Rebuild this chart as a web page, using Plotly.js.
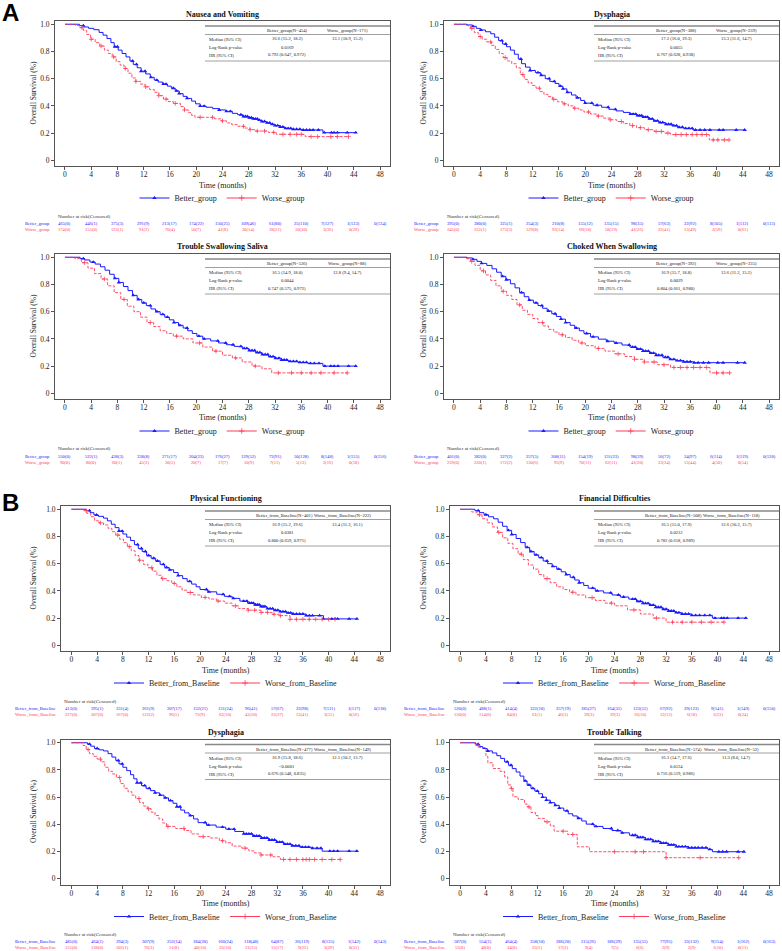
<!DOCTYPE html>
<html><head><meta charset="utf-8">
<script src="https://cdn.plot.ly/plotly-3.0.1.min.js"></script>
<style>body{margin:0;background:#fff}#chart{width:782px;height:951px}</style>
</head><body><div id="chart"></div>
<script>
// ---------------- shared ticks ----------------
const monthTicks = [0,4,8,12,16,20,24,28,32,36,40,44,48];
const survTickVals = [0,0.2,0.4,0.6,0.8,1.0];
const survTickText = ['0','0.2','0.4','0.6','0.8','1.0'];

// ---------------- A1 Nausea and Vomiting ----------------
const nvTitle = 'Nausea and Vomiting';
const nvGroups = ['Better_group','Worse_group'];
const nvHeader = ['Better_group(N=454)','Worse_group(N=171)'];
const nvMedian = ['16.6 (15.2, 18.2)','13.1 (10.9, 15.2)'];
const nvP = '0.0169';
const nvHR = '0.793 (0.647, 0.972)';
const nvBetterT = [0,2.2,2.9,3.6,4.4,5.2,5.8,6.4,7.0,7.5,8.1,8.7,9.3,9.9,10.4,11.0,11.6,12.3,13.0,13.6,14.2,14.9,15.6,16.2,16.8,17.4,18.0,18.6,19.3,19.9,20.6,21.5,22.5,23.5,24.5,25.5,26.3,27.1,27.9,28.7,29.4,30.0,30.7,31.3,32.0,32.8,33.5,34.5,36.0,39.3,44.3];
const nvBetterS = [1,0.99,0.98,0.97,0.96,0.94,0.92,0.895,0.865,0.835,0.81,0.785,0.76,0.73,0.705,0.68,0.655,0.635,0.61,0.59,0.575,0.56,0.545,0.53,0.51,0.49,0.47,0.455,0.435,0.415,0.398,0.39,0.38,0.37,0.36,0.345,0.335,0.322,0.313,0.305,0.295,0.285,0.275,0.265,0.255,0.245,0.235,0.228,0.223,0.203,0.203];
const nvBetterC = [2.8,7.6,8.0,10.3,10.9,11.6,12.2,13.1,14.0,15.0,15.4,16.5,17.0,17.4,18.6,20.6,21.2,23.5,24.6,25.2,26.8,27.2,27.5,27.8,28.1,28.4,28.7,29.0,29.3,29.6,30.0,30.4,30.8,31.2,31.6,32.0,32.4,32.8,33.2,33.6,34.0,34.4,34.8,35.3,35.8,36.3,36.8,37.3,37.8,38.6,39.5,40.6,41.0,41.5,43.0,44.3];
const nvWorseT = [0,1.6,2.2,2.8,3.3,3.9,4.6,5.3,6.0,6.6,7.2,7.8,8.4,9.0,9.6,10.2,10.8,11.5,12.2,12.9,13.6,14.3,15.0,15.7,16.5,17.6,18.2,18.8,19.3,19.8,22.8,23.8,24.6,25.4,26.3,27.3,28.2,29.0,31.0,32.2,36.6,43.2];
const nvWorseS = [1,0.99,0.975,0.955,0.925,0.89,0.865,0.84,0.81,0.785,0.76,0.725,0.70,0.675,0.64,0.605,0.58,0.56,0.54,0.52,0.50,0.475,0.45,0.432,0.418,0.395,0.37,0.35,0.33,0.316,0.305,0.29,0.275,0.262,0.25,0.237,0.225,0.215,0.205,0.191,0.174,0.174];
const nvWorseC = [2.6,4.0,5.5,7.4,9.2,10.8,12.3,14.3,15.4,16.8,18.2,20.6,22.5,24.0,27.2,28.2,29.3,30.4,31.8,33.2,34.3,35.3,36.0,37.5,38.5,40.5,41.5,43.2];
const nvRiskBetter = ['465(0)','446(1)','375(3)','291(9)','213(17)','174(22)','150(25)','109(46)','61(80)','25(110)','7(127)','1(133)','0(134)'];
const nvRiskWorse = ['174(0)','155(0)','122(1)','91(2)','70(4)','50(7)','41(8)','30(14)','18(21)','10(30)','3(36)','0(39)'];

// ---------------- A2 Dysphagia ----------------
const dyTitle = 'Dysphagia';
const dyGroups = ['Better_group','Worse_group'];
const dyHeader = ['Better_group(N=388)','Worse_group(N=239)'];
const dyMedian = ['17.2 (16.0, 19.3)','13.3 (11.6, 14.7)'];
const dyP = '0.0055';
const dyHR = '0.767 (0.628, 0.938)';
const dyBetterT = [0,2.0,2.8,3.4,4.0,4.8,5.6,6.2,6.8,7.4,8.0,8.6,9.2,9.8,10.3,10.9,11.6,12.4,13.2,13.9,14.6,15.4,16.0,16.6,17.2,17.9,18.6,19.3,19.9,21.2,22.5,23.6,24.7,25.8,26.8,27.8,28.7,29.6,30.4,31.2,32.2,33.2,34.0,35.0,36.4,44.3];
const dyBetterS = [1,0.995,0.985,0.97,0.958,0.945,0.93,0.905,0.88,0.855,0.835,0.81,0.78,0.745,0.71,0.685,0.66,0.645,0.625,0.60,0.58,0.565,0.545,0.525,0.50,0.48,0.46,0.44,0.42,0.405,0.39,0.375,0.363,0.352,0.34,0.328,0.317,0.305,0.29,0.278,0.265,0.255,0.243,0.235,0.223,0.223];
const dyBetterC = [2.9,4.1,7.3,7.9,10.2,11.6,12.8,13.3,14.5,15.3,16.2,16.6,17.3,18.8,20.0,21.0,21.8,23.5,24.6,26.9,27.3,27.7,28.0,28.3,28.6,28.9,29.2,29.5,29.8,30.2,30.6,31.0,31.4,31.8,32.3,32.7,33.1,33.5,33.9,34.3,34.8,35.3,35.8,36.3,36.8,37.5,38.2,39.0,40.4,41.0,43.0,44.3];
const dyWorseT = [0,1.9,2.5,3.1,3.7,4.3,5.0,5.7,6.3,6.9,7.5,8.1,8.8,9.5,10.1,10.7,11.3,11.9,12.5,13.1,13.7,14.3,15.0,15.8,16.6,17.4,18.2,19.0,19.8,20.8,21.8,22.8,23.8,24.8,25.8,26.8,27.8,29.0,30.5,32.0,33.0,38.9,41.9];
const dyWorseS = [1,0.99,0.97,0.94,0.91,0.89,0.87,0.845,0.815,0.785,0.755,0.73,0.71,0.68,0.63,0.595,0.57,0.55,0.53,0.505,0.485,0.468,0.448,0.43,0.415,0.40,0.383,0.37,0.355,0.34,0.325,0.31,0.298,0.285,0.27,0.255,0.24,0.225,0.212,0.2,0.189,0.15,0.15];
const dyWorseC = [2.7,4.0,5.6,7.8,10.5,13.0,15.2,16.8,18.4,20.5,22.0,23.8,25.5,27.2,28.4,29.6,30.8,31.6,32.6,33.8,34.6,35.4,36.3,37.0,37.8,38.5,39.5,40.2,41.2,41.9];
const dyRiskBetter = ['395(0)','380(0)','325(1)','254(3)','210(8)','155(12)','135(15)','98(35)','57(63)','22(92)','8(105)','1(112)','0(113)'];
const dyRiskWorse = ['245(0)','222(1)','173(3)','129(8)','93(14)','69(18)','58(19)','41(26)','22(41)','13(49)','2(59)','0(61)'];

// ---------------- A3 Trouble Swallowing Saliva ----------------
const saTitle = 'Trouble Swallowing Saliva';
const saGroups = ['Better_group','Worse_group'];
const saHeader = ['Better_group(N=536)','Worse_group(N=88)'];
const saMedian = ['16.5 (14.9, 18.0)','12.8 (9.4, 14.7)'];
const saP = '0.0044';
const saHR = '0.747 (0.575, 0.972)';
const saBetterT = [0,2.3,3.0,3.8,4.6,5.4,6.1,6.8,7.5,8.2,8.9,9.6,10.3,11.0,11.7,12.4,13.1,13.8,14.5,15.2,15.9,16.6,17.3,18.0,18.7,19.4,20.1,21.0,22.2,23.4,24.6,25.8,27.0,28.0,29.0,30.0,31.0,32.0,33.0,34.0,35.5,37.0,39.3,44.3];
const saBetterS = [1,0.99,0.98,0.965,0.95,0.93,0.905,0.875,0.845,0.815,0.785,0.755,0.72,0.69,0.665,0.645,0.62,0.6,0.58,0.56,0.54,0.52,0.5,0.48,0.46,0.44,0.42,0.4,0.385,0.37,0.357,0.345,0.33,0.315,0.3,0.285,0.27,0.258,0.245,0.235,0.227,0.22,0.2,0.2];
const saBetterC = [2.8,4.3,7.6,8.2,10.4,11.2,12.0,13.0,14.0,14.9,15.6,16.6,17.5,18.6,20.4,21.2,23.3,24.5,25.6,26.8,27.3,27.7,28.1,28.5,28.9,29.3,29.7,30.1,30.5,30.9,31.3,31.7,32.1,32.6,33.0,33.4,33.8,34.3,34.8,35.3,35.8,36.3,36.8,37.4,38.0,38.7,39.6,40.5,41.0,41.6,43.2,44.3];
const saWorseT = [0,1.5,2.5,3.5,4.5,5.5,6.5,7.5,8.5,9.5,10.5,11.5,12.5,13.5,14.5,15.5,16.5,18.0,19.5,21.0,22.5,24.0,25.5,27.0,28.5,30.0,31.5,43.0];
const saWorseS = [1,0.99,0.96,0.92,0.88,0.84,0.79,0.74,0.69,0.64,0.6,0.56,0.52,0.49,0.46,0.44,0.42,0.4,0.37,0.34,0.31,0.28,0.26,0.23,0.2,0.18,0.15,0.15];
const saWorseC = [3.0,6.0,9.0,13.0,17.0,20.5,23.0,26.0,29.0,32.5,34.5,36.0,37.5,39.0,41.0,43.0];
const saRiskBetter = ['550(0)','522(1)','438(3)','338(8)','271(17)','204(23)','176(27)','129(52)','72(91)','50(128)','8(148)','1(155)','0(156)'];
const saRiskWorse = ['90(0)','80(0)','60(1)','45(3)','30(5)','20(7)','17(7)','10(9)','7(11)','5(13)','2(16)','0(18)'];

// ---------------- A4 Choked When Swallowing ----------------
const chTitle = 'Choked When Swallowing';
const chGroups = ['Better_group','Worse_group'];
const chHeader = ['Better_group(N=392)','Worse_group(N=235)'];
const chMedian = ['16.9 (15.7, 18.8)','13.6 (11.2, 15.2)'];
const chP = '0.0029';
const chHR = '0.804 (0.661, 0.980)';
const chBetterT = [0,2.0,2.8,3.5,4.2,5.0,5.8,6.5,7.2,7.9,8.6,9.3,10.0,10.7,11.4,12.1,12.8,13.5,14.2,14.9,15.6,16.3,17.0,17.7,18.4,19.1,19.8,20.8,22.0,23.2,24.4,25.6,26.8,27.8,28.8,29.8,30.8,31.8,32.8,33.8,35.0,36.5,44.3];
const chBetterS = [1,0.995,0.985,0.97,0.955,0.94,0.915,0.89,0.86,0.835,0.805,0.775,0.74,0.71,0.685,0.665,0.645,0.625,0.605,0.585,0.565,0.545,0.52,0.5,0.48,0.46,0.44,0.415,0.398,0.383,0.37,0.355,0.34,0.325,0.31,0.295,0.28,0.265,0.25,0.24,0.232,0.225,0.225];
const chBetterC = [2.9,4.2,7.4,8.0,10.3,11.5,12.5,13.4,14.4,15.4,16.3,17.0,18.6,20.2,21.2,23.4,24.7,26.7,27.2,27.6,28.0,28.4,28.8,29.2,29.6,30.0,30.4,30.8,31.2,31.7,32.2,32.6,33.0,33.5,34.0,34.5,35.0,35.5,36.0,36.6,37.2,38.0,38.8,40.2,41.0,43.2,44.3];
const chWorseT = [0,1.8,2.5,3.2,4.0,4.8,5.6,6.4,7.2,8.0,8.8,9.6,10.4,11.2,12.0,12.8,13.6,14.4,15.2,16.0,17.0,18.0,19.0,20.0,21.5,23.0,24.5,26.0,27.5,29.0,31.0,33.0,39.0,42.0];
const chWorseS = [1,0.99,0.97,0.94,0.9,0.87,0.83,0.79,0.75,0.72,0.69,0.65,0.61,0.58,0.55,0.52,0.495,0.47,0.45,0.43,0.41,0.39,0.37,0.35,0.33,0.31,0.29,0.27,0.25,0.23,0.21,0.19,0.15,0.15];
const chWorseC = [2.7,4.5,7.5,10.0,13.5,16.5,19.5,22.0,25.0,27.5,29.0,30.5,32.0,33.5,34.5,35.5,36.5,37.5,38.5,40.0,41.0,42.0];
const chRiskBetter = ['401(0)','382(0)','327(2)','257(5)','208(11)','154(19)','131(23)','98(39)','56(72)','24(97)','6(114)','1(119)','0(120)'];
const chRiskWorse = ['239(0)','220(1)','172(2)','130(6)','95(9)','70(11)','62(11)','41(20)','23(34)','13(44)','4(50)','0(54)'];

// ---------------- B1 Physical Functioning ----------------
const pfTitle = 'Physical Functioning';
const pfGroups = ['Better_from_Baseline','Worse_from_Baseline'];
const pfHeader = ['Better_from_Baseline(N=401)','Worse_from_Baseline(N=222)'];
const pfMedian = ['16.9 (15.2, 19.6)','13.4 (11.3, 16.1)'];
const pfP = '0.0381';
const pfHR = '0.800 (0.659, 0.971)';
const pfBetterT = [0,2.3,2.9,3.5,4.2,5.0,5.6,6.2,6.8,7.4,8.0,8.6,9.2,9.8,10.4,11.0,11.7,12.4,13.1,13.8,14.5,15.2,15.9,16.6,17.3,18.0,18.7,19.4,20.0,21.2,22.6,23.8,25.0,26.2,27.4,28.4,29.4,30.4,31.4,32.4,33.4,34.4,36.5,39.2,44.4];
const pfBetterS = [1,0.99,0.975,0.958,0.948,0.935,0.915,0.89,0.865,0.84,0.818,0.795,0.77,0.74,0.712,0.69,0.66,0.64,0.62,0.595,0.572,0.555,0.535,0.512,0.49,0.47,0.45,0.43,0.41,0.393,0.375,0.36,0.345,0.325,0.31,0.298,0.285,0.27,0.258,0.248,0.238,0.23,0.218,0.194,0.194];
const pfBetterC = [2.8,3.9,7.4,7.9,10.3,10.9,11.5,12.0,12.8,13.4,14.3,14.8,15.3,16.6,18.4,21.0,21.4,23.6,24.6,25.2,26.8,27.3,27.7,28.0,28.3,28.6,28.9,29.2,29.5,29.8,30.1,30.5,30.9,31.3,31.7,32.1,32.5,32.9,33.3,33.7,34.1,34.5,35.0,35.5,36.0,36.5,37.0,37.5,38.6,39.2,40.5,41.0,41.4,43.2,44.4];
const pfWorseT = [0,1.9,2.4,3.0,3.6,4.3,5.0,5.7,6.3,6.9,7.5,8.1,8.7,9.3,9.9,10.5,11.2,11.9,12.6,13.3,14.0,14.8,15.6,16.4,17.2,18.0,19.0,20.2,21.4,22.6,23.8,25.0,26.0,27.5,29.5,31.2,32.4,34.0,41.3];
const pfWorseS = [1,0.99,0.97,0.945,0.915,0.9,0.885,0.86,0.835,0.81,0.78,0.755,0.725,0.695,0.66,0.625,0.595,0.57,0.545,0.515,0.49,0.475,0.455,0.43,0.405,0.388,0.37,0.352,0.34,0.325,0.31,0.29,0.27,0.258,0.242,0.228,0.218,0.191,0.191];
const pfWorseC = [2.3,4.5,7.2,9.0,10.6,12.5,14.2,16.0,18.5,20.8,22.8,25.5,27.5,28.5,29.5,30.5,31.5,32.5,34.0,35.0,36.0,37.0,38.0,39.0,40.0,41.0];
const pfRiskBetter = ['413(0)','395(1)','331(4)','261(9)','207(17)','152(21)','131(24)','96(41)','57(67)','22(98)','7(111)','1(117)','0(118)'];
const pfRiskWorse = ['227(0)','207(0)','167(0)','122(2)','96(5)','72(9)','62(10)','43(20)','22(37)','13(41)','3(51)','0(56)'];

// ---------------- B2 Financial Difficulties ----------------
const fdTitle = 'Financial Difficulties';
const fdGroups = ['Better_from_Baseline','Worse_from_Baseline'];
const fdHeader = ['Better_from_Baseline(N=508)','Worse_from_Baseline(N=118)'];
const fdMedian = ['16.5 (15.0, 17.9)','12.6 (10.2, 15.7)'];
const fdP = '0.0212';
const fdHR = '0.782 (0.618, 0.989)';
const fdBetterT = [0,2.3,3.0,3.7,4.4,5.2,5.9,6.6,7.3,8.0,8.7,9.4,10.1,10.8,11.5,12.2,12.9,13.6,14.3,15.0,15.7,16.4,17.1,17.8,18.5,19.2,19.9,21.0,22.3,23.6,24.9,26.2,27.4,28.4,29.4,30.4,31.4,32.4,33.4,34.4,36.0,39.2,44.4];
const fdBetterS = [1,0.99,0.975,0.96,0.945,0.93,0.905,0.875,0.845,0.815,0.785,0.755,0.72,0.69,0.665,0.645,0.62,0.6,0.58,0.56,0.54,0.52,0.5,0.48,0.46,0.44,0.42,0.4,0.385,0.37,0.355,0.34,0.323,0.308,0.295,0.28,0.265,0.252,0.24,0.23,0.22,0.2,0.2];
const fdBetterC = [2.8,4.0,7.5,8.0,10.4,11.0,11.8,12.6,13.5,14.4,15.3,16.5,17.6,18.5,20.6,21.3,23.4,24.6,25.4,26.8,27.2,27.6,28.0,28.4,28.8,29.2,29.6,30.0,30.4,30.8,31.2,31.6,32.0,32.4,32.8,33.2,33.6,34.0,34.5,35.0,35.5,36.0,36.6,37.2,38.0,38.8,39.6,40.6,41.0,41.5,43.2,44.4];
const fdWorseT = [0,1.8,2.6,3.4,4.2,5.0,5.8,6.6,7.4,8.2,9.0,9.8,10.6,11.4,12.2,13.0,14.0,15.0,16.0,17.0,18.0,19.5,21.0,22.5,24.0,26.0,28.0,30.0,32.0,41.0];
const fdWorseS = [1,0.98,0.96,0.93,0.9,0.87,0.83,0.79,0.75,0.71,0.67,0.63,0.59,0.56,0.52,0.49,0.46,0.43,0.41,0.39,0.37,0.35,0.33,0.31,0.29,0.26,0.23,0.2,0.17,0.17];
const fdWorseC = [3.0,6.0,9.5,13.5,17.5,20.5,23.5,27.0,30.5,33.0,34.5,36.0,37.5,39.0,41.0];
const fdRiskBetter = ['520(0)','488(1)','414(4)','322(10)','257(19)','185(27)','164(31)','123(51)','67(92)','29(123)','9(141)','1(149)','0(150)'];
const fdRiskWorse = ['120(0)','114(0)','84(0)','61(1)','46(3)','39(3)','29(3)','16(10)','12(12)','6(18)','1(23)','0(24)'];

// ---------------- B3 Dysphagia ----------------
const bdTitle = 'Dysphagia';
const bdGroups = ['Better_from_Baseline','Worse_from_Baseline'];
const bdHeader = ['Better_from_Baseline(N=477)','Worse_from_Baseline(N=149)'];
const bdMedian = ['16.9 (15.8, 18.6)','12.1 (10.2, 13.7)'];
const bdP = '<0.0001';
const bdHR = '0.676 (0.548, 0.835)';
const bdBetterT = [0,2.5,3.0,3.6,4.3,5.0,5.7,6.3,6.9,7.4,8.0,8.6,9.2,9.7,10.2,10.9,11.6,12.3,13.0,13.7,14.4,15.1,15.8,16.4,17.0,17.6,18.3,19.0,19.7,21.0,22.5,24.0,25.4,26.8,28.2,29.5,30.7,31.9,33.0,34.2,35.5,37.3,39.0,44.4];
const bdBetterS = [1,0.99,0.975,0.958,0.948,0.94,0.92,0.895,0.87,0.845,0.82,0.795,0.765,0.735,0.705,0.685,0.665,0.648,0.632,0.615,0.595,0.575,0.555,0.53,0.505,0.485,0.465,0.44,0.413,0.395,0.38,0.365,0.348,0.33,0.315,0.3,0.285,0.27,0.255,0.243,0.233,0.225,0.203,0.203];
const bdBetterC = [2.8,4.0,7.3,7.9,10.2,10.8,11.4,12.1,13.0,13.8,14.6,15.4,16.4,16.9,18.5,20.8,21.3,23.5,24.5,25.3,26.8,27.2,27.6,28.0,28.4,28.8,29.2,29.6,30.0,30.4,30.8,31.2,31.6,32.0,32.4,32.8,33.2,33.6,34.0,34.4,34.9,35.4,35.9,36.4,36.9,37.5,38.2,38.8,40.2,40.8,41.4,43.2,44.4];
const bdWorseT = [0,1.8,2.3,2.8,3.4,4.0,4.6,5.2,5.8,6.4,7.0,7.6,8.2,8.8,9.4,10.0,10.6,11.2,11.8,12.4,13.0,13.6,14.2,14.8,16.2,17.6,18.6,19.8,21.5,23.0,24.0,25.0,26.5,27.6,28.5,29.5,31.3,32.5,41.8];
const bdWorseS = [1,0.98,0.95,0.92,0.9,0.88,0.86,0.82,0.79,0.77,0.745,0.7,0.665,0.64,0.615,0.59,0.56,0.535,0.515,0.49,0.465,0.44,0.41,0.385,0.37,0.355,0.33,0.31,0.3,0.28,0.265,0.24,0.225,0.205,0.19,0.175,0.162,0.142,0.142];
const bdWorseC = [2.6,4.5,7.5,10.5,12.0,15.0,17.5,20.5,23.5,27.0,29.5,31.0,33.0,34.0,35.0,36.0,36.5,37.0,37.8,39.0,40.5,41.8];
const bdRiskBetter = ['485(0)','464(1)','394(3)','307(9)','252(14)','184(20)','160(24)','118(48)','64(87)','26(119)','8(135)','1(142)','0(143)'];
const bdRiskWorse = ['155(0)','138(0)','102(1)','76(3)','51(8)','40(10)','33(10)','21(15)','15(17)','9(22)','3(29)','0(31)'];

// ---------------- B4 Trouble Talking ----------------
const ttTitle = 'Trouble Talking';
const ttGroups = ['Better_from_Baseline','Worse_from_Baseline'];
const ttHeader = ['Better_from_Baseline(N=574)','Worse_from_Baseline(N=52)'];
const ttMedian = ['16.3 (14.7, 17.6)','11.3 (8.0, 14.7)'];
const ttP = '0.0124';
const ttHR = '0.716 (0.519, 0.986)';
const ttBetterT = [0,2.4,2.9,3.5,4.2,5.0,5.7,6.3,6.9,7.5,8.1,8.7,9.3,9.9,10.4,11.0,11.6,12.2,12.8,13.4,14.0,14.7,15.4,16.1,16.8,17.5,18.2,18.9,19.6,20.8,22.2,23.6,25.0,26.3,27.6,28.8,30.0,31.2,32.4,33.6,35.5,38.5,39.2,44.1];
const ttBetterS = [1,0.99,0.972,0.958,0.94,0.925,0.905,0.885,0.86,0.835,0.81,0.785,0.755,0.72,0.69,0.665,0.645,0.625,0.6,0.578,0.56,0.54,0.52,0.5,0.478,0.462,0.445,0.425,0.402,0.385,0.37,0.355,0.338,0.32,0.305,0.29,0.275,0.262,0.25,0.237,0.228,0.216,0.199,0.199];
const ttBetterC = [2.8,4.3,7.3,7.9,10.1,10.7,11.3,12.0,12.8,13.4,14.0,14.8,15.4,16.6,18.4,20.6,21.1,23.5,24.5,25.2,26.8,27.2,27.6,28.0,28.4,28.8,29.2,29.6,30.0,30.4,30.8,31.2,31.6,32.0,32.4,32.8,33.2,33.6,34.0,34.5,35.0,35.5,36.0,36.5,37.0,37.6,38.2,38.8,40.2,40.8,41.4,43.2,44.1];
const ttWorseT = [0,2.3,3.0,4.0,4.3,5.1,6.2,6.9,7.4,7.9,8.2,9.0,10.0,10.4,11.0,11.7,12.1,13.1,14.0,14.6,16.7,18.2,20.1,32.0,43.3];
const ttWorseS = [1,0.98,0.965,0.9,0.853,0.811,0.79,0.75,0.69,0.664,0.603,0.583,0.55,0.529,0.488,0.465,0.444,0.419,0.39,0.35,0.326,0.235,0.199,0.155,0.155];
const ttWorseC = [2.8,8.0,10.7,13.5,16.0,17.5,24.0,27.2,28.5,32.0,37.3,43.3];
const ttRiskBetter = ['587(0)','554(1)','464(4)','358(10)','286(20)','215(26)','186(29)','135(55)','77(95)','33(132)','9(154)','1(162)','0(163)'];
const ttRiskWorse = ['53(0)','48(0)','34(0)','25(1)','17(2)','9(4)','7(5)','6(6)','2(9)','2(9)','1(10)','0(11)'];

// ---------------- figure assembly ----------------
const W = 782, H = 951;
const fx = p => p / W, fy = p => 1 - p / H;
const BLUE = '#1a1aff', RED = '#ff3d5a';
const SERIF = 'Liberation Serif, Times New Roman, serif';

const panels = [
  {title:nvTitle, g:nvGroups, hd:nvHeader, md:nvMedian, p:nvP, hr:nvHR, bT:nvBetterT, bS:nvBetterS, bC:nvBetterC, wT:nvWorseT, wS:nvWorseS, wC:nvWorseC, rb:nvRiskBetter, rw:nvRiskWorse, L:55, R:390, T:21, B:166, xr:[-1.52,49.52], yt:33, kind:'A'},
  {title:dyTitle, g:dyGroups, hd:dyHeader, md:dyMedian, p:dyP, hr:dyHR, bT:dyBetterT, bS:dyBetterS, bC:dyBetterC, wT:dyWorseT, wS:dyWorseS, wC:dyWorseC, rb:dyRiskBetter, rw:dyRiskWorse, L:444, R:779, T:21, B:166, xr:[-1.52,49.52], yt:423, kind:'A'},
  {title:saTitle, g:saGroups, hd:saHeader, md:saMedian, p:saP, hr:saHR, bT:saBetterT, bS:saBetterS, bC:saBetterC, wT:saWorseT, wS:saWorseS, wC:saWorseC, rb:saRiskBetter, rw:saRiskWorse, L:55, R:390, T:254, B:399, xr:[-1.52,49.52], yt:33, kind:'A'},
  {title:chTitle, g:chGroups, hd:chHeader, md:chMedian, p:chP, hr:chHR, bT:chBetterT, bS:chBetterS, bC:chBetterC, wT:chWorseT, wS:chWorseS, wC:chWorseC, rb:chRiskBetter, rw:chRiskWorse, L:444, R:779, T:254, B:399, xr:[-1.52,49.52], yt:423, kind:'A'},
  {title:pfTitle, g:pfGroups, hd:pfHeader, md:pfMedian, p:pfP, hr:pfHR, bT:pfBetterT, bS:pfBetterS, bC:pfBetterC, wT:pfWorseT, wS:pfWorseS, wC:pfWorseC, rb:pfRiskBetter, rw:pfRiskWorse, L:61, R:390, T:506, B:651, xr:[-1.62,49.55], yt:33, kind:'B'},
  {title:fdTitle, g:fdGroups, hd:fdHeader, md:fdMedian, p:fdP, hr:fdHR, bT:fdBetterT, bS:fdBetterS, bC:fdBetterC, wT:fdWorseT, wS:fdWorseS, wC:fdWorseC, rb:fdRiskBetter, rw:fdRiskWorse, L:450, R:779, T:506, B:651, xr:[-1.58,49.55], yt:423, kind:'B'},
  {title:bdTitle, g:bdGroups, hd:bdHeader, md:bdMedian, p:bdP, hr:bdHR, bT:bdBetterT, bS:bdBetterS, bC:bdBetterC, wT:bdWorseT, wS:bdWorseS, wC:bdWorseC, rb:bdRiskBetter, rw:bdRiskWorse, L:61, R:390, T:739.5, B:884.5, xr:[-1.62,49.55], yt:33, kind:'B'},
  {title:ttTitle, g:ttGroups, hd:ttHeader, md:ttMedian, p:ttP, hr:ttHR, bT:ttBetterT, bS:ttBetterS, bC:ttBetterC, wT:ttWorseT, wS:ttWorseS, wC:ttWorseC, rb:ttRiskBetter, rw:ttRiskWorse, L:450, R:779, T:739.5, B:884.5, xr:[-1.58,49.55], yt:423, kind:'B'}
];

function stepAt(T, S, t) {
  let v = S[0];
  for (let i = 0; i < T.length; i++) { if (T[i] <= t) v = S[i]; else break; }
  return v;
}

const traces = [];
const layout = {
  width: W, height: H, margin: {l:0, r:0, t:0, b:0},
  paper_bgcolor: '#fff', plot_bgcolor: '#fff',
  font: {family: SERIF, color: '#222'},
  annotations: [], shapes: []
};
const ann = layout.annotations, shp = layout.shapes;

panels.forEach((P, i) => {
  const k = i + 1;
  const xa = k === 1 ? 'x' : 'x' + k, ya = k === 1 ? 'y' : 'y' + k;
  const lg = k === 1 ? 'legend' : 'legend' + k;
  const axisCommon = {
    showline: true, mirror: true, linecolor: '#555', linewidth: 1,
    ticks: 'outside', ticklen: 3, tickcolor: '#555', tickwidth: 1,
    showgrid: false, zeroline: false, fixedrange: true,
    tickfont: {family: SERIF, size: 7.5, color: '#222'}
  };
  layout[k === 1 ? 'xaxis' : 'xaxis' + k] = Object.assign({}, axisCommon, {
    domain: [fx(P.L), fx(P.R)], range: P.xr, anchor: ya, ticklabelstandoff: -2,
    tickmode: 'array', tickvals: monthTicks, ticktext: monthTicks.map(String)
  });
  layout[k === 1 ? 'yaxis' : 'yaxis' + k] = Object.assign({}, axisCommon, {
    domain: [fy(P.B), fy(P.T)], range: [-0.042, 1.024], anchor: xa,
    tickmode: 'array', tickvals: survTickVals, ticktext: survTickText
  });

  // curves
  traces.push({x: P.bT, y: P.bS, xaxis: xa, yaxis: ya, mode: 'lines', line: {shape: 'hv', color: BLUE, width: 1}, showlegend: false, hoverinfo: 'skip'});
  traces.push({x: P.wT, y: P.wS, xaxis: xa, yaxis: ya, mode: 'lines', line: {shape: 'hv', color: RED, width: 0.9, dash: '3px,1.5px'}, showlegend: false, hoverinfo: 'skip'});
  traces.push({x: P.bC, y: P.bC.map(t => stepAt(P.bT, P.bS, t)), xaxis: xa, yaxis: ya, mode: 'markers',
    marker: {symbol: 'triangle-up', size: 3.8, color: BLUE}, showlegend: false, hoverinfo: 'skip'});
  traces.push({x: P.wC, y: P.wC.map(t => stepAt(P.wT, P.wS, t)), xaxis: xa, yaxis: ya, mode: 'markers',
    marker: {symbol: 'cross-thin', size: 3.2, color: RED, line: {color: RED, width: 0.8}}, showlegend: false, hoverinfo: 'skip'});
  // legend entries (off-range placeholders)
  traces.push({x: [-100], y: [-100], xaxis: xa, yaxis: ya, mode: 'lines+markers', name: P.g[0], legend: lg,
    line: {color: BLUE, width: 1}, marker: {symbol: 'triangle-up', size: 4, color: BLUE}, hoverinfo: 'skip'});
  traces.push({x: [-100], y: [-100], xaxis: xa, yaxis: ya, mode: 'lines+markers', name: P.g[1], legend: lg,
    line: {color: RED, width: 1}, marker: {symbol: 'cross-thin', size: 4, color: RED, line: {color: RED, width: 0.8}}, hoverinfo: 'skip'});

  layout[lg] = {
    orientation: 'h', x: fx((P.L + P.R) / 2), xanchor: 'center', y: fy(P.B + 32), yanchor: 'middle',
    font: {family: SERIF, size: 8, color: '#222'}, bgcolor: 'rgba(0,0,0,0)', itemwidth: 30, tracegroupgap: 0
  };

  const cx = (P.L + P.R) / 2;
  // title
  ann.push({xref: 'paper', yref: 'paper', x: fx(cx), y: fy(P.T - 7), text: '<b>' + P.title + '</b>', showarrow: false,
    font: {family: SERIF, size: 8, color: '#111'}, xanchor: 'center', yanchor: 'middle'});
  // axis titles
  ann.push({xref: 'paper', yref: 'paper', x: fx(cx), y: fy(P.B + 19), text: 'Time (months)', showarrow: false,
    font: {family: SERIF, size: 8, color: '#222'}, xanchor: 'center', yanchor: 'middle'});
  ann.push({xref: 'paper', yref: 'paper', x: fx(P.yt), y: fy((P.T + P.B) / 2), text: 'Overall Survival (%)', showarrow: false,
    textangle: -90, font: {family: SERIF, size: 7.5, color: '#222'}, xanchor: 'center', yanchor: 'middle'});

  // statistics table
  const tl = P.R - 185;
  shp.push({type: 'line', xref: 'paper', yref: 'paper', x0: fx(tl), x1: fx(P.R), y0: fy(P.T + 5), y1: fy(P.T + 5), line: {color: '#888', width: 1.5}});
  shp.push({type: 'line', xref: 'paper', yref: 'paper', x0: fx(tl), x1: fx(P.R), y0: fy(P.T + 13.5), y1: fy(P.T + 13.5), line: {color: '#888', width: 0.8}});
  shp.push({type: 'line', xref: 'paper', yref: 'paper', x0: fx(tl), x1: fx(P.R), y0: fy(P.T + 40), y1: fy(P.T + 40), line: {color: '#888', width: 0.8}});
  const tf = {family: SERIF, size: 4.6, color: '#222'};
  const c1 = P.R - 103, c2 = P.R - 43;
  const h1 = P.kind === 'B' ? P.R - 106 : c1, h2 = P.kind === 'B' ? P.R - 48 : c2;
  const cell = (x, y, t, anchor) => ann.push({xref: 'paper', yref: 'paper', x: fx(x), y: fy(y), text: t, showarrow: false, font: tf, xanchor: anchor || 'center', yanchor: 'middle'});
  cell(h1, P.T + 9.5, P.hd[0]); cell(h2, P.T + 9.5, P.hd[1]);
  cell(tl + 2, P.T + 18.5, 'Median (95% CI)', 'left'); cell(c1, P.T + 18.5, P.md[0]); cell(c2, P.T + 18.5, P.md[1]);
  cell(tl + 2, P.T + 26.5, 'Log-Rank p-value', 'left'); cell(c1, P.T + 26.5, P.p);
  cell(tl + 2, P.T + 34.5, 'HR (95% CI)', 'left'); cell(c1, P.T + 34.5, P.hr);

  // number at risk
  ann.push({xref: 'paper', yref: 'paper', x: fx(P.L + 1), y: fy(P.B + 50), text: 'Number at risk(Censored)', showarrow: false,
    font: {family: SERIF, size: 5, color: '#333'}, xanchor: 'left', yanchor: 'middle'});
  const rf = c => ({family: SERIF, size: 4.6, color: c});
  ann.push({xref: 'paper', yref: 'paper', x: fx(P.L - 3), y: fy(P.B + 57), text: P.g[0], showarrow: false, font: rf(BLUE), xanchor: 'right', yanchor: 'middle'});
  ann.push({xref: 'paper', yref: 'paper', x: fx(P.L - 3), y: fy(P.B + 63), text: P.g[1], showarrow: false, font: rf(RED), xanchor: 'right', yanchor: 'middle'});
  P.rb.forEach((t, j) => ann.push({xref: xa, yref: 'paper', x: monthTicks[j], y: fy(P.B + 57), text: t, showarrow: false, font: rf(BLUE), xanchor: 'center', yanchor: 'middle'}));
  P.rw.forEach((t, j) => ann.push({xref: xa, yref: 'paper', x: monthTicks[j], y: fy(P.B + 63), text: t, showarrow: false, font: rf(RED), xanchor: 'center', yanchor: 'middle'}));
});

// panel letters
ann.push({xref: 'paper', yref: 'paper', x: 0, y: fy(12), text: '<b>A</b>', showarrow: false, font: {family: 'Liberation Sans, Arial, sans-serif', size: 24, color: '#000'}, xanchor: 'left', yanchor: 'middle'});
ann.push({xref: 'paper', yref: 'paper', x: 0, y: fy(502), text: '<b>B</b>', showarrow: false, font: {family: 'Liberation Sans, Arial, sans-serif', size: 24, color: '#000'}, xanchor: 'left', yanchor: 'middle'});

Plotly.newPlot('chart', traces, layout, {staticPlot: true, displayModeBar: false});
</script>
</body></html>
